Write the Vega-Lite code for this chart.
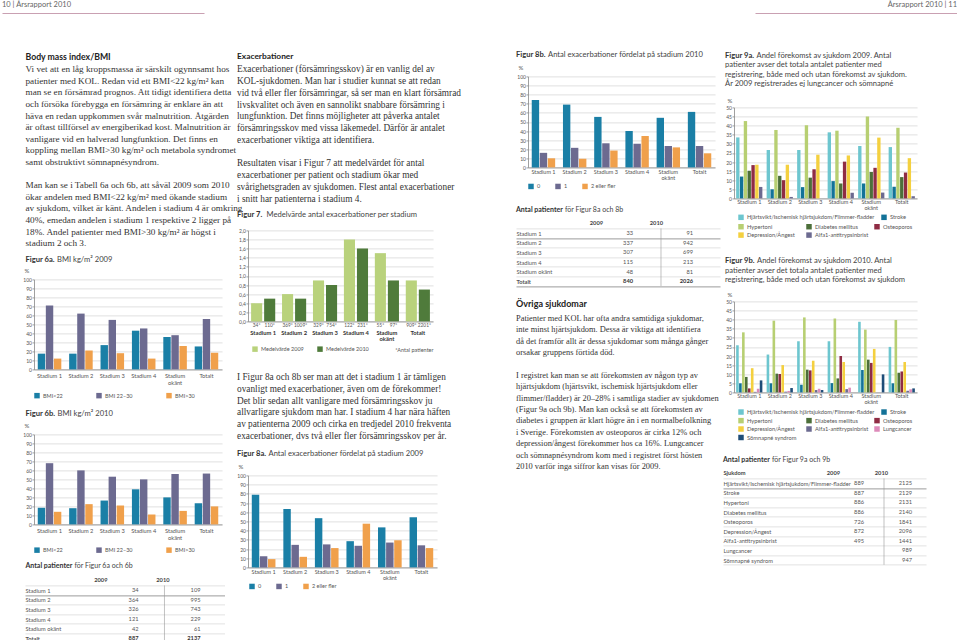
{
  "$schema": "https://vega.github.io/schema/vega-lite/v6.json",
  "padding": {"left": 2, "top": 1, "right": 0, "bottom": 0},
  "background": "white",
  "config": {
    "view": {"stroke": null},
    "font": "Lato",
    "axis": {"labelFont": "Lato", "labelFontSize": 5, "labelColor": "#555", "titleFont": "Lato", "titleFontSize": 6, "titleFontWeight": "normal", "titleColor": "#555", "domainColor": "#888", "domainWidth": 0.8, "tickColor": "#888", "tickSize": 2, "tickWidth": 0.8, "gridColor": "#c9c9c9", "gridWidth": 0.6, "labelPadding": 0.5},
    "legend": {"orient": "none", "direction": "horizontal", "symbolType": "square", "symbolSize": 30, "symbolStrokeWidth": 0, "labelFont": "Lato", "labelFontSize": 5.5, "labelColor": "#555", "labelOffset": 3, "padding": 0, "rowPadding": 2.5}
  },
  "columns": 1,
  "spacing": 37.4,
  "resolve": {"scale": {"color": "independent", "xOffset": "independent"}, "legend": {"color": "independent"}},
  "concat": [
    {
      "spacing": 551,
      "resolve": {"scale": {"color": "independent", "xOffset": "independent"}, "legend": {"color": "independent"}},
      "concat": [
        {
          "width": 202, "height": 12,
          "data": {"values": [{"sida": "10", "rubrik": "10 | Årsrapport 2010"}]},
          "mark": {"type": "text", "align": "left", "baseline": "middle", "dy": -2, "fontSize": 7.5, "color": "#666"},
          "encoding": {
            "x": {"field": "sida", "type": "nominal", "scale": {"type": "point", "padding": 0, "align": 0}, "axis": {"labels": false, "ticks": false, "title": null, "domainColor": "#c9a0b2", "domainWidth": 1.2}},
            "text": {"field": "rubrik"}
          }
        },
        {
          "width": 202, "height": 12,
          "data": {"values": [{"sida": "11", "rubrik": "Årsrapport 2010 | 11"}]},
          "mark": {"type": "text", "align": "right", "baseline": "middle", "dy": -2, "fontSize": 7.5, "color": "#666"},
          "encoding": {
            "x": {"field": "sida", "type": "nominal", "scale": {"type": "point", "padding": 0, "align": 1}, "axis": {"labels": false, "ticks": false, "title": null, "domainColor": "#c9a0b2", "domainWidth": 1.2}},
            "text": {"field": "rubrik"}
          }
        }
      ]
    },
    {
      "spacing": 0,
      "resolve": {"scale": {"color": "independent", "xOffset": "independent"}, "legend": {"color": "independent"}},
      "concat": [
        {
          "width": 20, "height": 10,
          "data": {"values": [{"t": ""}]},
          "mark": {"type": "text"},
          "encoding": {"text": {"field": "t"}}
        },
        {
          "spacing": 35,
          "resolve": {"scale": {"color": "independent", "xOffset": "independent"}, "legend": {"color": "independent"}},
          "concat": [
            {
              "spacing": -7,
              "resolve": {"scale": {"color": "independent", "xOffset": "independent"}, "legend": {"color": "independent"}},
              "concat": [
                {
                  "columns": 1,
                  "spacing": 0,
                  "resolve": {"scale": {"color": "independent", "xOffset": "independent"}, "legend": {"color": "independent"}},
                  "concat": [
                    {
                      "width": 188, "height": 12,
                      "data": {"values": [{"text": "Body mass index/BMI"}]},
                      "mark": {"type": "text", "align": "left", "baseline": "middle", "dx": -8.5, "font": "Lato", "fontSize": 8.7, "fontWeight": "bold", "color": "#222"},
                      "encoding": {"x": {"datum": 0, "type": "quantitative", "scale": {"domain": [0, 1]}, "axis": null}, "text": {"field": "text"}}
                    },
                    {
                      "width": 188, "height": 185.6,
                      "data": {"values": [
                        {"rad": 0, "text": "Vi vet att en låg kroppsmassa är särskilt ogynnsamt hos"},
                        {"rad": 1, "text": "patienter med KOL. Redan vid ett BMI<22 kg/m² kan"},
                        {"rad": 2, "text": "man se en försämrad prognos. Att tidigt identifiera detta"},
                        {"rad": 3, "text": "och försöka förebygga en försämring är enklare än att"},
                        {"rad": 4, "text": "häva en redan uppkommen svår malnutrition. Åtgärden"},
                        {"rad": 5, "text": "är oftast tillförsel av energiberikad kost. Malnutrition är"},
                        {"rad": 6, "text": "vanligare vid en halverad lungfunktion. Det finns en"},
                        {"rad": 7, "text": "koppling mellan BMI>30 kg/m² och metabola syndromet"},
                        {"rad": 8, "text": "samt obstruktivt sömnapnésyndrom."},
                        {"rad": 10, "text": "Man kan se i Tabell 6a och 6b, att såväl 2009 som 2010"},
                        {"rad": 11, "text": "ökar andelen med BMI<22 kg/m² med ökande stadium"},
                        {"rad": 12, "text": "av sjukdom, vilket är känt. Andelen i stadium 4 är omkring"},
                        {"rad": 13, "text": "40%, emedan andelen i stadium 1 respektive 2 ligger på"},
                        {"rad": 14, "text": "18%. Andel patienter med BMI>30 kg/m² är högst i"},
                        {"rad": 15, "text": "stadium 2 och 3."}
                      ]},
                      "mark": {"type": "text", "align": "left", "baseline": "middle", "dx": -8.5, "font": "Liberation Serif", "fontSize": 9.2, "color": "#333"},
                      "encoding": {
                        "x": {"datum": 0, "type": "quantitative", "scale": {"domain": [0, 1]}, "axis": null},
                        "y": {"field": "rad", "type": "quantitative", "scale": {"domain": [-0.5, 15.5], "reverse": true, "nice": false, "zero": false}, "axis": null},
                        "text": {"field": "text"}
                      }
                    },
                    {
                      "width": 188, "height": 18,
                      "data": {"values": [{"del": "nr", "text": "Figur 6a."}, {"del": "rubrik", "text": "BMI kg/m² 2009"}]},
                      "encoding": {"x": {"datum": 0, "type": "quantitative", "scale": {"domain": [0, 1]}, "axis": null}, "text": {"field": "text"}},
                      "layer": [
                        {"transform": [{"filter": "datum.del == 'nr'"}], "mark": {"type": "text", "align": "left", "baseline": "middle", "dx": -8.5, "dy": 1.4, "fontSize": 7.6, "fontWeight": "bold", "color": "#333"}},
                        {"transform": [{"filter": "datum.del == 'rubrik'"}], "mark": {"type": "text", "align": "left", "baseline": "middle", "dx": 23, "dy": 1.4, "fontSize": 7.6, "color": "#444"}}
                      ]
                    },
                    {
                      "width": 188, "height": 90,
                      "data": {"values": [
                        {"stadium": "Stadium 1", "bmi": "BMI<22", "andel": 17.5}, {"stadium": "Stadium 1", "bmi": "BMI 22–30", "andel": 71}, {"stadium": "Stadium 1", "bmi": "BMI>30", "andel": 12},
                        {"stadium": "Stadium 2", "bmi": "BMI<22", "andel": 17.5}, {"stadium": "Stadium 2", "bmi": "BMI 22–30", "andel": 62}, {"stadium": "Stadium 2", "bmi": "BMI>30", "andel": 21},
                        {"stadium": "Stadium 3", "bmi": "BMI<22", "andel": 27}, {"stadium": "Stadium 3", "bmi": "BMI 22–30", "andel": 55}, {"stadium": "Stadium 3", "bmi": "BMI>30", "andel": 18},
                        {"stadium": "Stadium 4", "bmi": "BMI<22", "andel": 43}, {"stadium": "Stadium 4", "bmi": "BMI 22–30", "andel": 45.5}, {"stadium": "Stadium 4", "bmi": "BMI>30", "andel": 12},
                        {"stadium": "Stadium okänt", "bmi": "BMI<22", "andel": 36}, {"stadium": "Stadium okänt", "bmi": "BMI 22–30", "andel": 38}, {"stadium": "Stadium okänt", "bmi": "BMI>30", "andel": 26},
                        {"stadium": "Totalt", "bmi": "BMI<22", "andel": 25.5}, {"stadium": "Totalt", "bmi": "BMI 22–30", "andel": 56}, {"stadium": "Totalt", "bmi": "BMI>30", "andel": 18.5}
                      ]},
                      "mark": {"type": "bar"},
                      "encoding": {
                        "x": {"field": "stadium", "type": "nominal", "sort": null, "title": null, "scale": {"paddingInner": 0.25, "paddingOuter": 0.12}, "axis": {"labelAngle": 0, "ticks": false, "labelPadding": 3, "labelFontSize": 5.7, "labelLineHeight": 7, "labelExpr": "datum.value == 'Stadium okänt' ? ['Stadium', 'okänt'] : datum.value"}},
                        "xOffset": {"field": "bmi", "type": "nominal", "sort": null, "scale": {"paddingInner": 0.08}},
                        "y": {"field": "andel", "type": "quantitative", "scale": {"domain": [0, 100], "nice": false}, "axis": {"values": [0, 10, 20, 30, 40, 50, 60, 70, 80, 90, 100], "title": "%", "titleAngle": 0, "titleAlign": "left", "titleBaseline": "middle", "titleX": -10, "titleY": -9, "grid": true}},
                        "color": {"field": "bmi", "type": "nominal", "sort": null, "scale": {"domain": ["BMI<22", "BMI 22–30", "BMI>30"], "range": ["#1a7fa6", "#6c6a90", "#f0a04b"]}, "legend": {"title": null, "legendX": 0, "legendY": 113, "columnPadding": 33}}
                      }
                    },
                    {
                      "width": 188, "height": 22.5,
                      "data": {"values": [{"del": "nr", "text": "Figur 6b."}, {"del": "rubrik", "text": "BMI kg/m² 2010"}]},
                      "encoding": {"x": {"datum": 0, "type": "quantitative", "scale": {"domain": [0, 1]}, "axis": null}, "text": {"field": "text"}},
                      "layer": [
                        {"transform": [{"filter": "datum.del == 'nr'"}], "mark": {"type": "text", "align": "left", "baseline": "middle", "dx": -8.5, "dy": 3.25, "fontSize": 7.6, "fontWeight": "bold", "color": "#333"}},
                        {"transform": [{"filter": "datum.del == 'rubrik'"}], "mark": {"type": "text", "align": "left", "baseline": "middle", "dx": 23.5, "dy": 3.25, "fontSize": 7.6, "color": "#444"}}
                      ]
                    },
                    {
                      "width": 188, "height": 90,
                      "data": {"values": [
                        {"stadium": "Stadium 1", "bmi": "BMI<22", "andel": 18.5}, {"stadium": "Stadium 1", "bmi": "BMI 22–30", "andel": 68}, {"stadium": "Stadium 1", "bmi": "BMI>30", "andel": 14},
                        {"stadium": "Stadium 2", "bmi": "BMI<22", "andel": 18}, {"stadium": "Stadium 2", "bmi": "BMI 22–30", "andel": 60}, {"stadium": "Stadium 2", "bmi": "BMI>30", "andel": 22.5},
                        {"stadium": "Stadium 3", "bmi": "BMI<22", "andel": 26.5}, {"stadium": "Stadium 3", "bmi": "BMI 22–30", "andel": 53}, {"stadium": "Stadium 3", "bmi": "BMI>30", "andel": 21},
                        {"stadium": "Stadium 4", "bmi": "BMI<22", "andel": 39}, {"stadium": "Stadium 4", "bmi": "BMI 22–30", "andel": 50}, {"stadium": "Stadium 4", "bmi": "BMI>30", "andel": 11},
                        {"stadium": "Stadium okänt", "bmi": "BMI<22", "andel": 30}, {"stadium": "Stadium okänt", "bmi": "BMI 22–30", "andel": 56}, {"stadium": "Stadium okänt", "bmi": "BMI>30", "andel": 15},
                        {"stadium": "Totalt", "bmi": "BMI<22", "andel": 23.5}, {"stadium": "Totalt", "bmi": "BMI 22–30", "andel": 56.5}, {"stadium": "Totalt", "bmi": "BMI>30", "andel": 20}
                      ]},
                      "mark": {"type": "bar"},
                      "encoding": {
                        "x": {"field": "stadium", "type": "nominal", "sort": null, "title": null, "scale": {"paddingInner": 0.25, "paddingOuter": 0.12}, "axis": {"labelAngle": 0, "ticks": false, "labelPadding": 3, "labelFontSize": 5.7, "labelLineHeight": 7, "labelExpr": "datum.value == 'Stadium okänt' ? ['Stadium', 'okänt'] : datum.value"}},
                        "xOffset": {"field": "bmi", "type": "nominal", "sort": null, "scale": {"paddingInner": 0.08}},
                        "y": {"field": "andel", "type": "quantitative", "scale": {"domain": [0, 100], "nice": false}, "axis": {"values": [0, 10, 20, 30, 40, 50, 60, 70, 80, 90, 100], "title": "%", "titleAngle": 0, "titleAlign": "left", "titleBaseline": "middle", "titleX": -10, "titleY": -9, "grid": true}},
                        "color": {"field": "bmi", "type": "nominal", "sort": null, "scale": {"domain": ["BMI<22", "BMI 22–30", "BMI>30"], "range": ["#1a7fa6", "#6c6a90", "#f0a04b"]}, "legend": {"title": null, "legendX": 0, "legendY": 112.5, "columnPadding": 33}}
                      }
                    },
                    {
                      "width": 188, "height": 21.5,
                      "data": {"values": [{"del": "nr", "text": "Antal patienter"}, {"del": "rubrik", "text": "för Figur 6a och 6b"}]},
                      "encoding": {"x": {"datum": 0, "type": "quantitative", "scale": {"domain": [0, 1]}, "axis": null}, "text": {"field": "text"}},
                      "layer": [
                        {"transform": [{"filter": "datum.del == 'nr'"}], "mark": {"type": "text", "align": "left", "baseline": "middle", "dx": -8.5, "dy": 0.75, "fontSize": 7, "fontWeight": "bold", "color": "#333"}},
                        {"transform": [{"filter": "datum.del == 'rubrik'"}], "mark": {"type": "text", "align": "left", "baseline": "middle", "dx": 40.5, "dy": 0.75, "fontSize": 7, "color": "#444"}}
                      ]
                    },
                    {
                      "width": 190.5, "height": 57.6,
                      "data": {"values": [
                        {"rad": "Stadium 1", "år": "2009", "antal": 34}, {"rad": "Stadium 1", "år": "2010", "antal": 109},
                        {"rad": "Stadium 2", "år": "2009", "antal": 364}, {"rad": "Stadium 2", "år": "2010", "antal": 995},
                        {"rad": "Stadium 3", "år": "2009", "antal": 326}, {"rad": "Stadium 3", "år": "2010", "antal": 743},
                        {"rad": "Stadium 4", "år": "2009", "antal": 121}, {"rad": "Stadium 4", "år": "2010", "antal": 229},
                        {"rad": "Stadium okänt", "år": "2009", "antal": 42}, {"rad": "Stadium okänt", "år": "2010", "antal": 61},
                        {"rad": "Totalt", "år": "2009", "antal": 887}, {"rad": "Totalt", "år": "2010", "antal": 2137}
                      ]},
                      "layer": [
                        {"transform": [{"filter": "datum.rad != 'Totalt'"}], "mark": {"type": "text", "align": "right", "baseline": "middle", "dx": -2, "fontSize": 5.7, "color": "#555"},
                         "encoding": {
                           "y": {"field": "rad", "type": "nominal", "sort": null, "scale": {"domain": ["Stadium 1", "Stadium 2", "Stadium 3", "Stadium 4", "Stadium okänt", "Totalt"], "paddingInner": 0, "paddingOuter": 0}, "axis": {"title": null, "domain": false, "tickBand": "extent", "tickSize": 9, "tickWidth": 0.6, "tickColor": {"condition": {"test": "datum.value == 'Stadium 1' || datum.value == 'Totalt'", "value": "#555"}, "value": "#cfcfcf"}, "grid": true, "gridWidth": 0.6, "gridColor": {"condition": {"test": "datum.value == 'Stadium 1' || datum.value == 'Totalt'", "value": "#555"}, "value": "#cfcfcf"}, "labelAlign": "left", "labelPadding": 0, "labelFontSize": 5.7, "labelColor": "#555", "labelFontWeight": {"condition": {"test": "datum.value == 'Totalt'", "value": "bold"}, "value": "normal"}}},
                           "x": {"field": "år", "type": "nominal", "sort": null, "bandPosition": 1, "scale": {"domain": ["2009", "2010"], "paddingInner": 0, "paddingOuter": 0.536, "align": 0.669}, "axis": {"orient": "top", "title": null, "bandPosition": 1, "labelAngle": 0, "labelAlign": "right", "labelOffset": -2, "labelFontWeight": "bold", "labelFontSize": 5.7, "labelColor": "#444", "ticks": false, "domain": false, "labelPadding": 2.5}},
                           "text": {"field": "antal"}
                         }},
                        {"transform": [{"filter": "datum.rad == 'Totalt'"}], "mark": {"type": "text", "align": "right", "baseline": "middle", "dx": -2, "fontSize": 5.7, "fontWeight": "bold", "color": "#333"},
                         "encoding": {"y": {"field": "rad", "type": "nominal"}, "x": {"field": "år", "type": "nominal", "bandPosition": 1}, "text": {"field": "antal"}}},
                        {"data": {"values": [{"d": 1}]}, "mark": {"type": "rule", "color": "#999", "strokeWidth": 0.6}, "encoding": {"x": {"datum": "2010", "type": "nominal", "bandPosition": 0.387}}}
                      ]
                    }
                  ]
                },
                {
                  "columns": 1,
                  "spacing": 0,
                  "resolve": {"scale": {"color": "independent", "xOffset": "independent"}, "legend": {"color": "independent"}},
                  "concat": [
                    {
                      "width": 232, "height": 12,
                      "data": {"values": [{"text": "Exacerbationer"}]},
                      "mark": {"type": "text", "align": "left", "baseline": "middle", "dx": -11, "dy": -1, "font": "Lato", "fontSize": 8.4, "fontWeight": "bold", "color": "#222"},
                      "encoding": {"x": {"datum": 0, "type": "quantitative", "scale": {"domain": [0, 1]}, "axis": null}, "text": {"field": "text"}}
                    },
                    {
                      "width": 232, "height": 141,
                      "data": {"values": [
                        {"rad": 0, "text": "Exacerbationer (försämringsskov) är en vanlig del av"},
                        {"rad": 1, "text": "KOL-sjukdomen. Man har i studier kunnat se att redan"},
                        {"rad": 2, "text": "vid två eller fler försämringar, så ser man en klart försämrad"},
                        {"rad": 3, "text": "livskvalitet och även en sannolikt snabbare försämring i"},
                        {"rad": 4, "text": "lungfunktion. Det finns möjligheter att påverka antalet"},
                        {"rad": 5, "text": "försämringsskov med vissa läkemedel. Därför är antalet"},
                        {"rad": 6, "text": "exacerbationer viktiga att identifiera."},
                        {"rad": 8, "text": "Resultaten visar i Figur 7 att medelvärdet för antal"},
                        {"rad": 9, "text": "exacerbationer per patient och stadium ökar med"},
                        {"rad": 10, "text": "svårighetsgraden av sjukdomen. Flest antal exacerbationer"},
                        {"rad": 11, "text": "i snitt har patienterna i stadium 4."}
                      ]},
                      "mark": {"type": "text", "align": "left", "baseline": "middle", "dx": -11, "font": "Liberation Serif", "fontSize": 9.3, "color": "#333"},
                      "encoding": {
                        "x": {"datum": 0, "type": "quantitative", "scale": {"domain": [0, 1]}, "axis": null},
                        "y": {"field": "rad", "type": "quantitative", "scale": {"domain": [-0.5, 11.5], "reverse": true, "nice": false, "zero": false}, "axis": null},
                        "text": {"field": "text"}
                      }
                    },
                    {
                      "width": 232, "height": 23.5,
                      "data": {"values": [{"del": "nr", "text": "Figur 7."}, {"del": "rubrik", "text": "Medelvärde antal exacerbationer per stadium"}]},
                      "encoding": {"x": {"datum": 0, "type": "quantitative", "scale": {"domain": [0, 1]}, "axis": null}, "text": {"field": "text"}},
                      "layer": [
                        {"transform": [{"filter": "datum.del == 'nr'"}], "mark": {"type": "text", "align": "left", "baseline": "middle", "dx": -11, "dy": -0.75, "fontSize": 7.6, "fontWeight": "bold", "color": "#333"}},
                        {"transform": [{"filter": "datum.del == 'rubrik'"}], "mark": {"type": "text", "align": "left", "baseline": "middle", "dx": 18.5, "dy": -0.75, "fontSize": 7.6, "color": "#444"}}
                      ]
                    },
                    {
                      "width": 185, "height": 91,
                      "data": {"values": [
                        {"stadium": "Stadium 1", "serie": "Medelvärde 2009", "medel": 0.4, "n": "34*"}, {"stadium": "Stadium 1", "serie": "Medelvärde 2010", "medel": 0.5, "n": "110*"},
                        {"stadium": "Stadium 2", "serie": "Medelvärde 2009", "medel": 0.6, "n": "369*"}, {"stadium": "Stadium 2", "serie": "Medelvärde 2010", "medel": 0.5, "n": "1009*"},
                        {"stadium": "Stadium 3", "serie": "Medelvärde 2009", "medel": 0.9, "n": "329*"}, {"stadium": "Stadium 3", "serie": "Medelvärde 2010", "medel": 0.8, "n": "754*"},
                        {"stadium": "Stadium 4", "serie": "Medelvärde 2009", "medel": 1.8, "n": "122*"}, {"stadium": "Stadium 4", "serie": "Medelvärde 2010", "medel": 1.6, "n": "231*"},
                        {"stadium": "Stadium okänt", "serie": "Medelvärde 2009", "medel": 1.5, "n": "55*"}, {"stadium": "Stadium okänt", "serie": "Medelvärde 2010", "medel": 0.9, "n": "97*"},
                        {"stadium": "Totalt", "serie": "Medelvärde 2009", "medel": 0.9, "n": "909*"}, {"stadium": "Totalt", "serie": "Medelvärde 2010", "medel": 0.7, "n": "2201*"}
                      ]},
                      "encoding": {
                        "x": {"field": "stadium", "type": "nominal", "sort": null, "scale": {"paddingInner": 0.22, "paddingOuter": 0.1}, "axis": {"labelAngle": 0, "ticks": false, "labelPadding": 8, "labelFontSize": 5.8, "labelFontWeight": "bold", "labelColor": "#333", "labelLineHeight": 6.5, "labelExpr": "datum.value == 'Stadium okänt' ? ['Stadium', 'okänt'] : datum.value", "title": "*Antal patienter", "titleAnchor": "end", "titleAlign": "right", "titleBaseline": "middle", "titleX": 185, "titleY": 28, "titleFontSize": 5.5}},
                        "xOffset": {"field": "serie", "type": "nominal", "sort": null, "scale": {"paddingInner": 0.15}},
                        "y": {"field": "medel", "type": "quantitative", "scale": {"domain": [0, 2], "nice": false}, "axis": {"values": [0, 0.2, 0.4, 0.6, 0.8, 1, 1.2, 1.4, 1.6, 1.8, 2], "labelExpr": "replace(format(datum.value, '.1f'), '.', ',')", "title": null, "grid": true}}
                      },
                      "layer": [
                        {"mark": {"type": "bar"}, "encoding": {"color": {"field": "serie", "type": "nominal", "sort": null, "scale": {"domain": ["Medelvärde 2009", "Medelvärde 2010"], "range": ["#b9d27c", "#4f7b3b"]}, "legend": {"title": null, "legendX": 4, "legendY": 115.5, "columnPadding": 13}}}},
                        {"mark": {"type": "text", "baseline": "top", "dy": 1.5, "fontSize": 4.8, "color": "#555"}, "encoding": {"y": {"datum": 0, "type": "quantitative"}, "text": {"field": "n"}}}
                      ]
                    },
                    {
                      "width": 232, "height": 88.5,
                      "data": {"values": [
                        {"rad": 1, "text": "I Figur 8a och 8b ser man att det i stadium 1 är tämligen"},
                        {"rad": 2, "text": "ovanligt med exacerbationer, även om de förekommer!"},
                        {"rad": 3, "text": "Det blir sedan allt vanligare med försämringsskov ju"},
                        {"rad": 4, "text": "allvarligare sjukdom man har. I stadium 4 har nära häften"},
                        {"rad": 5, "text": "av patienterna 2009 och cirka en tredjedel 2010 frekventa"},
                        {"rad": 6, "text": "exacerbationer, dvs två eller fler försämringsskov per år."}
                      ]},
                      "mark": {"type": "text", "align": "left", "baseline": "middle", "dx": -11, "font": "Liberation Serif", "fontSize": 9.3, "color": "#333"},
                      "encoding": {
                        "x": {"datum": 0, "type": "quantitative", "scale": {"domain": [0, 1]}, "axis": null},
                        "y": {"field": "rad", "type": "quantitative", "scale": {"domain": [-1, 6.5], "reverse": true, "nice": false, "zero": false}, "axis": null},
                        "text": {"field": "text"}
                      }
                    },
                    {
                      "width": 232, "height": 20.7,
                      "data": {"values": [{"del": "nr", "text": "Figur 8a."}, {"del": "rubrik", "text": "Antal exacerbationer fördelat på stadium 2009"}]},
                      "encoding": {"x": {"datum": 0, "type": "quantitative", "scale": {"domain": [0, 1]}, "axis": null}, "text": {"field": "text"}},
                      "layer": [
                        {"transform": [{"filter": "datum.del == 'nr'"}], "mark": {"type": "text", "align": "left", "baseline": "middle", "dx": -11, "dy": 1.6, "fontSize": 7.6, "fontWeight": "bold", "color": "#333"}},
                        {"transform": [{"filter": "datum.del == 'rubrik'"}], "mark": {"type": "text", "align": "left", "baseline": "middle", "dx": 20.5, "dy": 1.6, "fontSize": 7.6, "color": "#444"}}
                      ]
                    },
                    {
                      "width": 189, "height": 92,
                      "data": {"values": [
                        {"stadium": "Stadium 1", "antal": "0", "andel": 79}, {"stadium": "Stadium 1", "antal": "1", "andel": 12}, {"stadium": "Stadium 1", "antal": "2 eller fler", "andel": 9},
                        {"stadium": "Stadium 2", "antal": "0", "andel": 63.5}, {"stadium": "Stadium 2", "antal": "1", "andel": 24.5}, {"stadium": "Stadium 2", "antal": "2 eller fler", "andel": 11.5},
                        {"stadium": "Stadium 3", "antal": "0", "andel": 53.5}, {"stadium": "Stadium 3", "antal": "1", "andel": 25}, {"stadium": "Stadium 3", "antal": "2 eller fler", "andel": 21},
                        {"stadium": "Stadium 4", "antal": "0", "andel": 28.5}, {"stadium": "Stadium 4", "antal": "1", "andel": 23.5}, {"stadium": "Stadium 4", "antal": "2 eller fler", "andel": 47.5},
                        {"stadium": "Stadium okänt", "antal": "0", "andel": 43.5}, {"stadium": "Stadium okänt", "antal": "1", "andel": 27}, {"stadium": "Stadium okänt", "antal": "2 eller fler", "andel": 29.5},
                        {"stadium": "Totalt", "antal": "0", "andel": 54.5}, {"stadium": "Totalt", "antal": "1", "andel": 24}, {"stadium": "Totalt", "antal": "2 eller fler", "andel": 21}
                      ]},
                      "mark": {"type": "bar"},
                      "encoding": {
                        "x": {"field": "stadium", "type": "nominal", "sort": null, "title": null, "scale": {"paddingInner": 0.25, "paddingOuter": 0.12}, "axis": {"labelAngle": 0, "ticks": false, "labelPadding": 2, "labelFontSize": 5.5, "labelLineHeight": 6.5, "labelExpr": "datum.value == 'Stadium okänt' ? ['Stadium', 'okänt'] : datum.value"}},
                        "xOffset": {"field": "antal", "type": "nominal", "sort": null, "scale": {"paddingInner": 0.08}},
                        "y": {"field": "andel", "type": "quantitative", "scale": {"domain": [0, 100], "nice": false}, "axis": {"values": [0, 10, 20, 30, 40, 50, 60, 70, 80, 90, 100], "title": "%", "titleAngle": 0, "titleAlign": "left", "titleBaseline": "middle", "titleX": -10, "titleY": -8.5, "grid": true}},
                        "color": {"field": "antal", "type": "nominal", "sort": null, "scale": {"domain": ["0", "1", "2 eller fler"], "range": ["#1a7fa6", "#6c6a90", "#f0a04b"]}, "legend": {"title": null, "legendX": 1, "legendY": 107.8, "columnPadding": 14}}
                      }
                    }
                  ]
                }
              ]
            },
            {
              "spacing": 2,
              "resolve": {"scale": {"color": "independent", "xOffset": "independent"}, "legend": {"color": "independent"}},
              "concat": [
                {
                  "columns": 1,
                  "spacing": 0,
                  "resolve": {"scale": {"color": "independent", "xOffset": "independent"}, "legend": {"color": "independent"}},
                  "concat": [
                    {
                      "width": 192, "height": 12.7,
                      "data": {"values": [{"del": "nr", "text": "Figur 8b."}, {"del": "rubrik", "text": "Antal exacerbationer fördelat på stadium 2010"}]},
                      "encoding": {"x": {"datum": 0, "type": "quantitative", "scale": {"domain": [0, 1]}, "axis": null}, "text": {"field": "text"}},
                      "layer": [
                        {"transform": [{"filter": "datum.del == 'nr'"}], "mark": {"type": "text", "align": "left", "baseline": "middle", "dx": -12, "dy": -2.35, "fontSize": 7.6, "fontWeight": "bold", "color": "#333"}},
                        {"transform": [{"filter": "datum.del == 'rubrik'"}], "mark": {"type": "text", "align": "left", "baseline": "middle", "dx": 20, "dy": -2.35, "fontSize": 7.6, "color": "#444"}}
                      ]
                    },
                    {
                      "width": 187, "height": 91,
                      "data": {"values": [
                        {"stadium": "Stadium 1", "antal": "0", "andel": 74}, {"stadium": "Stadium 1", "antal": "1", "andel": 16}, {"stadium": "Stadium 1", "antal": "2 eller fler", "andel": 10},
                        {"stadium": "Stadium 2", "antal": "0", "andel": 69}, {"stadium": "Stadium 2", "antal": "1", "andel": 21.5}, {"stadium": "Stadium 2", "antal": "2 eller fler", "andel": 9.5},
                        {"stadium": "Stadium 3", "antal": "0", "andel": 55.5}, {"stadium": "Stadium 3", "antal": "1", "andel": 26.5}, {"stadium": "Stadium 3", "antal": "2 eller fler", "andel": 18.5},
                        {"stadium": "Stadium 4", "antal": "0", "andel": 40}, {"stadium": "Stadium 4", "antal": "1", "andel": 26}, {"stadium": "Stadium 4", "antal": "2 eller fler", "andel": 34.5},
                        {"stadium": "Stadium okänt", "antal": "0", "andel": 54.5}, {"stadium": "Stadium okänt", "antal": "1", "andel": 23.5}, {"stadium": "Stadium okänt", "antal": "2 eller fler", "andel": 22},
                        {"stadium": "Totalt", "antal": "0", "andel": 61}, {"stadium": "Totalt", "antal": "1", "andel": 23.5}, {"stadium": "Totalt", "antal": "2 eller fler", "andel": 15.5}
                      ]},
                      "mark": {"type": "bar"},
                      "encoding": {
                        "x": {"field": "stadium", "type": "nominal", "sort": null, "title": null, "scale": {"paddingInner": 0.25, "paddingOuter": 0.12}, "axis": {"labelAngle": 0, "ticks": false, "labelPadding": 2, "labelFontSize": 5.5, "labelLineHeight": 6.5, "labelExpr": "datum.value == 'Stadium okänt' ? ['Stadium', 'okänt'] : datum.value"}},
                        "xOffset": {"field": "antal", "type": "nominal", "sort": null, "scale": {"paddingInner": 0.08}},
                        "y": {"field": "andel", "type": "quantitative", "scale": {"domain": [0, 100], "nice": false}, "axis": {"values": [0, 10, 20, 30, 40, 50, 60, 70, 80, 90, 100], "title": "%", "titleAngle": 0, "titleAlign": "left", "titleBaseline": "middle", "titleX": -10, "titleY": -8.5, "grid": true}},
                        "color": {"field": "antal", "type": "nominal", "sort": null, "scale": {"domain": ["0", "1", "2 eller fler"], "range": ["#1a7fa6", "#6c6a90", "#f0a04b"]}, "legend": {"title": null, "legendX": 0, "legendY": 106.8, "columnPadding": 14}}
                      }
                    },
                    {
                      "width": 192, "height": 28.5,
                      "data": {"values": [{"del": "nr", "text": "Antal patienter"}, {"del": "rubrik", "text": "för Figur 8a och 8b"}]},
                      "encoding": {"x": {"datum": 0, "type": "quantitative", "scale": {"domain": [0, 1]}, "axis": null}, "text": {"field": "text"}},
                      "layer": [
                        {"transform": [{"filter": "datum.del == 'nr'"}], "mark": {"type": "text", "align": "left", "baseline": "middle", "dx": -12, "dy": 5.25, "fontSize": 7, "fontWeight": "bold", "color": "#333"}},
                        {"transform": [{"filter": "datum.del == 'rubrik'"}], "mark": {"type": "text", "align": "left", "baseline": "middle", "dx": 37, "dy": 5.25, "fontSize": 7, "color": "#444"}}
                      ]
                    },
                    {
                      "width": 192, "height": 57.6,
                      "data": {"values": [
                        {"rad": "Stadium 1", "år": "2009", "antal": 33}, {"rad": "Stadium 1", "år": "2010", "antal": 91},
                        {"rad": "Stadium 2", "år": "2009", "antal": 337}, {"rad": "Stadium 2", "år": "2010", "antal": 942},
                        {"rad": "Stadium 3", "år": "2009", "antal": 307}, {"rad": "Stadium 3", "år": "2010", "antal": 699},
                        {"rad": "Stadium 4", "år": "2009", "antal": 115}, {"rad": "Stadium 4", "år": "2010", "antal": 213},
                        {"rad": "Stadium okänt", "år": "2009", "antal": 48}, {"rad": "Stadium okänt", "år": "2010", "antal": 81},
                        {"rad": "Totalt", "år": "2009", "antal": 840}, {"rad": "Totalt", "år": "2010", "antal": 2026}
                      ]},
                      "layer": [
                        {"transform": [{"filter": "datum.rad != 'Totalt'"}], "mark": {"type": "text", "align": "right", "baseline": "middle", "dx": -2, "fontSize": 5.7, "color": "#555"},
                         "encoding": {
                           "y": {"field": "rad", "type": "nominal", "sort": null, "scale": {"domain": ["Stadium 1", "Stadium 2", "Stadium 3", "Stadium 4", "Stadium okänt", "Totalt"], "paddingInner": 0, "paddingOuter": 0}, "axis": {"title": null, "domain": false, "tickBand": "extent", "tickSize": 12, "tickWidth": 0.6, "tickColor": {"condition": {"test": "datum.value == 'Stadium 1' || datum.value == 'Totalt'", "value": "#555"}, "value": "#cfcfcf"}, "grid": true, "gridWidth": 0.6, "gridColor": {"condition": {"test": "datum.value == 'Stadium 1' || datum.value == 'Totalt'", "value": "#555"}, "value": "#cfcfcf"}, "labelAlign": "left", "labelPadding": 0, "labelFontSize": 5.7, "labelColor": "#555", "labelFontWeight": {"condition": {"test": "datum.value == 'Totalt'", "value": "bold"}, "value": "normal"}}},
                           "x": {"field": "år", "type": "nominal", "sort": null, "bandPosition": 1, "scale": {"domain": ["2009", "2010"], "paddingInner": 0, "paddingOuter": 0.6, "align": 0.653}, "axis": {"orient": "top", "title": null, "bandPosition": 1, "labelAngle": 0, "labelAlign": "right", "labelOffset": -2, "labelFontWeight": "bold", "labelFontSize": 5.7, "labelColor": "#444", "ticks": false, "domain": false, "labelPadding": 2.5}},
                           "text": {"field": "antal"}
                         }},
                        {"transform": [{"filter": "datum.rad == 'Totalt'"}], "mark": {"type": "text", "align": "right", "baseline": "middle", "dx": -2, "fontSize": 5.7, "fontWeight": "bold", "color": "#333"},
                         "encoding": {"y": {"field": "rad", "type": "nominal"}, "x": {"field": "år", "type": "nominal", "bandPosition": 1}, "text": {"field": "antal"}}},
                        {"data": {"values": [{"d": 1}]}, "mark": {"type": "rule", "color": "#999", "strokeWidth": 0.6}, "encoding": {"x": {"datum": "2010", "type": "nominal", "bandPosition": 0.433}}}
                      ]
                    },
                    {
                      "width": 192, "height": 22,
                      "data": {"values": [{"text": "Övriga sjukdomar"}]},
                      "mark": {"type": "text", "align": "left", "baseline": "middle", "dx": -12, "dy": 5.9, "font": "Lato", "fontSize": 9, "fontWeight": "bold", "color": "#222"},
                      "encoding": {"x": {"datum": 0, "type": "quantitative", "scale": {"domain": [0, 1]}, "axis": null}, "text": {"field": "text"}}
                    },
                    {
                      "width": 192, "height": 162.3,
                      "data": {"values": [
                        {"rad": 0, "text": "Patienter med KOL har ofta andra samtidiga sjukdomar,"},
                        {"rad": 1, "text": "inte minst hjärtsjukdom. Dessa är viktiga att identifiera"},
                        {"rad": 2, "text": "då det framför allt är dessa sjukdomar som många gånger"},
                        {"rad": 3, "text": "orsakar gruppens förtida död."},
                        {"rad": 5, "text": "I registret kan man se att förekomsten av någon typ av"},
                        {"rad": 6, "text": "hjärtsjukdom (hjärtsvikt, ischemisk hjärtsjukdom eller"},
                        {"rad": 7, "text": "flimmer/fladder) är 20–28% i samtliga stadier av sjukdomen"},
                        {"rad": 8, "text": "(Figur 9a och 9b). Man kan också se att förekomsten av"},
                        {"rad": 9, "text": "diabetes i gruppen är klart högre än i en normalbefolkning"},
                        {"rad": 10, "text": "i Sverige. Förekomsten av osteoporos är cirka 12% och"},
                        {"rad": 11, "text": "depression/ångest förekommer hos ca 16%. Lungcancer"},
                        {"rad": 12, "text": "och sömnapnésyndrom kom med i registret först hösten"},
                        {"rad": 13, "text": "2010 varför inga siffror kan visas för 2009."}
                      ]},
                      "mark": {"type": "text", "align": "left", "baseline": "middle", "dx": -12, "font": "Liberation Serif", "fontSize": 8.4, "color": "#333"},
                      "encoding": {
                        "x": {"datum": 0, "type": "quantitative", "scale": {"domain": [0, 1]}, "axis": null},
                        "y": {"field": "rad", "type": "quantitative", "scale": {"domain": [-0.737, 13.5], "reverse": true, "nice": false, "zero": false}, "axis": null},
                        "text": {"field": "text"}
                      }
                    }
                  ]
                },
                {
                  "columns": 1,
                  "spacing": 0,
                  "resolve": {"scale": {"color": "independent", "xOffset": "independent"}, "legend": {"color": "independent"}},
                  "concat": [
                    {
                      "width": 209, "height": 46,
                      "data": {"values": [
                        {"rad": 0, "del": "nr", "text": "Figur 9a."},
                        {"rad": 0, "del": "rubrik", "text": "Andel förekomst av sjukdom 2009. Antal"},
                        {"rad": 1, "del": "rad", "text": "patienter avser det totala antalet patienter med"},
                        {"rad": 2, "del": "rad", "text": "registrering, både med och utan förekomst av sjukdom."},
                        {"rad": 3, "del": "rad", "text": "År 2009 registrerades ej lungcancer och sömnapné"}
                      ]},
                      "encoding": {
                        "x": {"datum": 0, "type": "quantitative", "scale": {"domain": [0, 1]}, "axis": null},
                        "y": {"field": "rad", "type": "quantitative", "scale": {"domain": [-0.5, 4.43], "reverse": true, "nice": false, "zero": false}, "axis": null},
                        "text": {"field": "text"}
                      },
                      "layer": [
                        {"transform": [{"filter": "datum.del == 'nr'"}], "mark": {"type": "text", "align": "left", "baseline": "middle", "dx": -9, "fontSize": 7.6, "fontWeight": "bold", "color": "#333"}},
                        {"transform": [{"filter": "datum.del == 'rubrik'"}], "mark": {"type": "text", "align": "left", "baseline": "middle", "dx": 22.5, "fontSize": 7.6, "color": "#444"}},
                        {"transform": [{"filter": "datum.del == 'rad'"}], "mark": {"type": "text", "align": "left", "baseline": "middle", "dx": -9, "fontSize": 7.6, "color": "#444"}}
                      ]
                    },
                    {
                      "width": 183, "height": 91,
                      "data": {"values": [
                        {"stadium": "Stadium 1", "sjukdom": "Hjärtsvikt/Ischemisk hjärtsjukdom/Flimmer-fladder", "andel": 33.5}, {"stadium": "Stadium 1", "sjukdom": "Stroke", "andel": 12}, {"stadium": "Stadium 1", "sjukdom": "Hypertoni", "andel": 42.5}, {"stadium": "Stadium 1", "sjukdom": "Diabetes mellitus", "andel": 15.2}, {"stadium": "Stadium 1", "sjukdom": "Osteoporos", "andel": 18.3}, {"stadium": "Stadium 1", "sjukdom": "Depression/Ångest", "andel": 18.5}, {"stadium": "Stadium 1", "sjukdom": "Alfa1-antitrypsinbrist", "andel": 6.3},
                        {"stadium": "Stadium 2", "sjukdom": "Hjärtsvikt/Ischemisk hjärtsjukdom/Flimmer-fladder", "andel": 26.6}, {"stadium": "Stadium 2", "sjukdom": "Stroke", "andel": 5}, {"stadium": "Stadium 2", "sjukdom": "Hypertoni", "andel": 37.6}, {"stadium": "Stadium 2", "sjukdom": "Diabetes mellitus", "andel": 12.4}, {"stadium": "Stadium 2", "sjukdom": "Osteoporos", "andel": 10}, {"stadium": "Stadium 2", "sjukdom": "Depression/Ångest", "andel": 18.5}, {"stadium": "Stadium 2", "sjukdom": "Alfa1-antitrypsinbrist", "andel": 0.8},
                        {"stadium": "Stadium 3", "sjukdom": "Hjärtsvikt/Ischemisk hjärtsjukdom/Flimmer-fladder", "andel": 26.6}, {"stadium": "Stadium 3", "sjukdom": "Stroke", "andel": 6.2}, {"stadium": "Stadium 3", "sjukdom": "Hypertoni", "andel": 40.2}, {"stadium": "Stadium 3", "sjukdom": "Diabetes mellitus", "andel": 11.4}, {"stadium": "Stadium 3", "sjukdom": "Osteoporos", "andel": 16}, {"stadium": "Stadium 3", "sjukdom": "Depression/Ångest", "andel": 24}, {"stadium": "Stadium 3", "sjukdom": "Alfa1-antitrypsinbrist", "andel": 0},
                        {"stadium": "Stadium 4", "sjukdom": "Hjärtsvikt/Ischemisk hjärtsjukdom/Flimmer-fladder", "andel": 36.3}, {"stadium": "Stadium 4", "sjukdom": "Stroke", "andel": 9.5}, {"stadium": "Stadium 4", "sjukdom": "Hypertoni", "andel": 37.2}, {"stadium": "Stadium 4", "sjukdom": "Diabetes mellitus", "andel": 8.2}, {"stadium": "Stadium 4", "sjukdom": "Osteoporos", "andel": 20.2}, {"stadium": "Stadium 4", "sjukdom": "Depression/Ångest", "andel": 23.6}, {"stadium": "Stadium 4", "sjukdom": "Alfa1-antitrypsinbrist", "andel": 3.1},
                        {"stadium": "Stadium okänt", "sjukdom": "Hjärtsvikt/Ischemisk hjärtsjukdom/Flimmer-fladder", "andel": 28.8}, {"stadium": "Stadium okänt", "sjukdom": "Stroke", "andel": 8.2}, {"stadium": "Stadium okänt", "sjukdom": "Hypertoni", "andel": 45}, {"stadium": "Stadium okänt", "sjukdom": "Diabetes mellitus", "andel": 14.5}, {"stadium": "Stadium okänt", "sjukdom": "Osteoporos", "andel": 16.8}, {"stadium": "Stadium okänt", "sjukdom": "Depression/Ångest", "andel": 33.4}, {"stadium": "Stadium okänt", "sjukdom": "Alfa1-antitrypsinbrist", "andel": 3.2},
                        {"stadium": "Totalt", "sjukdom": "Hjärtsvikt/Ischemisk hjärtsjukdom/Flimmer-fladder", "andel": 28.2}, {"stadium": "Totalt", "sjukdom": "Stroke", "andel": 6.4}, {"stadium": "Totalt", "sjukdom": "Hypertoni", "andel": 38.8}, {"stadium": "Totalt", "sjukdom": "Diabetes mellitus", "andel": 11.7}, {"stadium": "Totalt", "sjukdom": "Osteoporos", "andel": 14.2}, {"stadium": "Totalt", "sjukdom": "Depression/Ångest", "andel": 22.1}, {"stadium": "Totalt", "sjukdom": "Alfa1-antitrypsinbrist", "andel": 1.2}
                      ]},
                      "encoding": {
                        "x": {"field": "stadium", "type": "nominal", "sort": null, "title": null, "scale": {"paddingInner": 0.14, "paddingOuter": 0.07}, "axis": {"labelAngle": 0, "ticks": false, "labelPadding": 1, "labelFontSize": 5.5, "labelLineHeight": 6.5, "labelExpr": "datum.value == 'Stadium okänt' ? ['Stadium', 'okänt'] : datum.value"}},
                        "xOffset": {"field": "sjukdom", "type": "nominal", "scale": {"domain": ["Hjärtsvikt/Ischemisk hjärtsjukdom/Flimmer-fladder", "Stroke", "Hypertoni", "Diabetes mellitus", "Osteoporos", "Depression/Ångest", "Alfa1-antitrypsinbrist"], "paddingInner": 0.12}},
                        "y": {"field": "andel", "type": "quantitative", "scale": {"domain": [0, 50], "nice": false}, "axis": {"values": [0, 5, 10, 15, 20, 25, 30, 35, 40, 45, 50], "title": "%", "titleAngle": 0, "titleAlign": "left", "titleBaseline": "middle", "titleX": -7, "titleY": -7, "grid": true}}
                      },
                      "layer": [
                        {"transform": [{"filter": {"field": "sjukdom", "oneOf": ["Hjärtsvikt/Ischemisk hjärtsjukdom/Flimmer-fladder", "Stroke"]}}], "mark": {"type": "bar"}, "encoding": {"color": {"field": "sjukdom", "type": "nominal", "scale": {"domain": ["Hjärtsvikt/Ischemisk hjärtsjukdom/Flimmer-fladder", "Stroke"], "range": ["#6dc6cf", "#137298"]}, "legend": {"title": null, "legendX": 4, "legendY": 106.8, "columns": 2, "columnPadding": 6, "labelFontSize": 5.7}}}},
                        {"transform": [{"filter": {"not": {"field": "sjukdom", "oneOf": ["Hjärtsvikt/Ischemisk hjärtsjukdom/Flimmer-fladder", "Stroke"]}}}], "mark": {"type": "bar"}, "encoding": {"color": {"field": "sjukdom", "type": "nominal", "scale": {"domain": ["Hypertoni", "Diabetes mellitus", "Osteoporos", "Depression/Ångest", "Alfa1-antitrypsinbrist"], "range": ["#b7cf72", "#4c6f3a", "#8f2c44", "#f4d03f", "#6c6a90"]}, "legend": {"title": null, "legendX": 4, "legendY": 116.2, "columns": 3, "gridAlign": "all", "columnPadding": 5, "labelFontSize": 5.7}}}}
                      ],
                      "resolve": {"scale": {"color": "independent"}, "legend": {"color": "independent"}}
                    },
                    {
                      "width": 209, "height": 52,
                      "data": {"values": [
                        {"rad": 0, "del": "nr", "text": "Figur 9b."},
                        {"rad": 0, "del": "rubrik", "text": "Andel förekomst av sjukdom 2010. Antal"},
                        {"rad": 1, "del": "rad", "text": "patienter avser det totala antalet patienter med"},
                        {"rad": 2, "del": "rad", "text": "registrering, både med och utan förekomst av sjukdom"}
                      ]},
                      "encoding": {
                        "x": {"datum": 0, "type": "quantitative", "scale": {"domain": [0, 1]}, "axis": null},
                        "y": {"field": "rad", "type": "quantitative", "scale": {"domain": [-2.39, 3.26], "reverse": true, "nice": false, "zero": false}, "axis": null},
                        "text": {"field": "text"}
                      },
                      "layer": [
                        {"transform": [{"filter": "datum.del == 'nr'"}], "mark": {"type": "text", "align": "left", "baseline": "middle", "dx": -9, "fontSize": 7.6, "fontWeight": "bold", "color": "#333"}},
                        {"transform": [{"filter": "datum.del == 'rubrik'"}], "mark": {"type": "text", "align": "left", "baseline": "middle", "dx": 23, "fontSize": 7.6, "color": "#444"}},
                        {"transform": [{"filter": "datum.del == 'rad'"}], "mark": {"type": "text", "align": "left", "baseline": "middle", "dx": -9, "fontSize": 7.6, "color": "#444"}}
                      ]
                    },
                    {
                      "width": 183, "height": 91,
                      "data": {"values": [
                        {"stadium": "Stadium 1", "sjukdom": "Hjärtsvikt/Ischemisk hjärtsjukdom/Flimmer-fladder", "andel": 25.9}, {"stadium": "Stadium 1", "sjukdom": "Stroke", "andel": 5}, {"stadium": "Stadium 1", "sjukdom": "Hypertoni", "andel": 33}, {"stadium": "Stadium 1", "sjukdom": "Diabetes mellitus", "andel": 8.5}, {"stadium": "Stadium 1", "sjukdom": "Osteoporos", "andel": 2.2}, {"stadium": "Stadium 1", "sjukdom": "Depression/Ångest", "andel": 13.3}, {"stadium": "Stadium 1", "sjukdom": "Alfa1-antitrypsinbrist", "andel": 0.3}, {"stadium": "Stadium 1", "sjukdom": "Lungcancer", "andel": 2}, {"stadium": "Stadium 1", "sjukdom": "Sömnapné syndrom", "andel": 6.6},
                        {"stadium": "Stadium 2", "sjukdom": "Hjärtsvikt/Ischemisk hjärtsjukdom/Flimmer-fladder", "andel": 20.8}, {"stadium": "Stadium 2", "sjukdom": "Stroke", "andel": 5}, {"stadium": "Stadium 2", "sjukdom": "Hypertoni", "andel": 39.4}, {"stadium": "Stadium 2", "sjukdom": "Diabetes mellitus", "andel": 10.3}, {"stadium": "Stadium 2", "sjukdom": "Osteoporos", "andel": 10.1}, {"stadium": "Stadium 2", "sjukdom": "Depression/Ångest", "andel": 15}, {"stadium": "Stadium 2", "sjukdom": "Alfa1-antitrypsinbrist", "andel": 0.4}, {"stadium": "Stadium 2", "sjukdom": "Lungcancer", "andel": 0.8}, {"stadium": "Stadium 2", "sjukdom": "Sömnapné syndrom", "andel": 2.4},
                        {"stadium": "Stadium 3", "sjukdom": "Hjärtsvikt/Ischemisk hjärtsjukdom/Flimmer-fladder", "andel": 28.1}, {"stadium": "Stadium 3", "sjukdom": "Stroke", "andel": 4.2}, {"stadium": "Stadium 3", "sjukdom": "Hypertoni", "andel": 41.2}, {"stadium": "Stadium 3", "sjukdom": "Diabetes mellitus", "andel": 12.5}, {"stadium": "Stadium 3", "sjukdom": "Osteoporos", "andel": 12.1}, {"stadium": "Stadium 3", "sjukdom": "Depression/Ångest", "andel": 17.4}, {"stadium": "Stadium 3", "sjukdom": "Alfa1-antitrypsinbrist", "andel": 1.3}, {"stadium": "Stadium 3", "sjukdom": "Lungcancer", "andel": 2}, {"stadium": "Stadium 3", "sjukdom": "Sömnapné syndrom", "andel": 1.3},
                        {"stadium": "Stadium 4", "sjukdom": "Hjärtsvikt/Ischemisk hjärtsjukdom/Flimmer-fladder", "andel": 28.1}, {"stadium": "Stadium 4", "sjukdom": "Stroke", "andel": 5.1}, {"stadium": "Stadium 4", "sjukdom": "Hypertoni", "andel": 40.6}, {"stadium": "Stadium 4", "sjukdom": "Diabetes mellitus", "andel": 7.7}, {"stadium": "Stadium 4", "sjukdom": "Osteoporos", "andel": 20}, {"stadium": "Stadium 4", "sjukdom": "Depression/Ångest", "andel": 16.7}, {"stadium": "Stadium 4", "sjukdom": "Alfa1-antitrypsinbrist", "andel": 1.8}, {"stadium": "Stadium 4", "sjukdom": "Lungcancer", "andel": 2.6}, {"stadium": "Stadium 4", "sjukdom": "Sömnapné syndrom", "andel": 0},
                        {"stadium": "Stadium okänt", "sjukdom": "Hjärtsvikt/Ischemisk hjärtsjukdom/Flimmer-fladder", "andel": 38.8}, {"stadium": "Stadium okänt", "sjukdom": "Stroke", "andel": 12.3}, {"stadium": "Stadium okänt", "sjukdom": "Hypertoni", "andel": 34.5}, {"stadium": "Stadium okänt", "sjukdom": "Diabetes mellitus", "andel": 18}, {"stadium": "Stadium okänt", "sjukdom": "Osteoporos", "andel": 16.2}, {"stadium": "Stadium okänt", "sjukdom": "Depression/Ångest", "andel": 23.9}, {"stadium": "Stadium okänt", "sjukdom": "Alfa1-antitrypsinbrist", "andel": 0}, {"stadium": "Stadium okänt", "sjukdom": "Lungcancer", "andel": 0}, {"stadium": "Stadium okänt", "sjukdom": "Sömnapné syndrom", "andel": 9.9},
                        {"stadium": "Totalt", "sjukdom": "Hjärtsvikt/Ischemisk hjärtsjukdom/Flimmer-fladder", "andel": 25}, {"stadium": "Totalt", "sjukdom": "Stroke", "andel": 5}, {"stadium": "Totalt", "sjukdom": "Hypertoni", "andel": 39.8}, {"stadium": "Totalt", "sjukdom": "Diabetes mellitus", "andel": 10.8}, {"stadium": "Totalt", "sjukdom": "Osteoporos", "andel": 11.5}, {"stadium": "Totalt", "sjukdom": "Depression/Ångest", "andel": 16.7}, {"stadium": "Totalt", "sjukdom": "Alfa1-antitrypsinbrist", "andel": 0.9}, {"stadium": "Totalt", "sjukdom": "Lungcancer", "andel": 1.7}, {"stadium": "Totalt", "sjukdom": "Sömnapné syndrom", "andel": 2.2}
                      ]},
                      "encoding": {
                        "x": {"field": "stadium", "type": "nominal", "sort": null, "title": null, "scale": {"paddingInner": 0.14, "paddingOuter": 0.07}, "axis": {"labelAngle": 0, "ticks": false, "labelPadding": 1, "labelFontSize": 5.5, "labelLineHeight": 6.5, "labelExpr": "datum.value == 'Stadium okänt' ? ['Stadium', 'okänt'] : datum.value"}},
                        "xOffset": {"field": "sjukdom", "type": "nominal", "scale": {"domain": ["Hjärtsvikt/Ischemisk hjärtsjukdom/Flimmer-fladder", "Stroke", "Hypertoni", "Diabetes mellitus", "Osteoporos", "Depression/Ångest", "Alfa1-antitrypsinbrist", "Lungcancer", "Sömnapné syndrom"], "paddingInner": 0.12}},
                        "y": {"field": "andel", "type": "quantitative", "scale": {"domain": [0, 50], "nice": false}, "axis": {"values": [0, 5, 10, 15, 20, 25, 30, 35, 40, 45, 50], "title": "%", "titleAngle": 0, "titleAlign": "left", "titleBaseline": "middle", "titleX": -7, "titleY": -7, "grid": true}}
                      },
                      "layer": [
                        {"transform": [{"filter": {"field": "sjukdom", "oneOf": ["Hjärtsvikt/Ischemisk hjärtsjukdom/Flimmer-fladder", "Stroke"]}}], "mark": {"type": "bar"}, "encoding": {"color": {"field": "sjukdom", "type": "nominal", "scale": {"domain": ["Hjärtsvikt/Ischemisk hjärtsjukdom/Flimmer-fladder", "Stroke"], "range": ["#6dc6cf", "#137298"]}, "legend": {"title": null, "legendX": 4, "legendY": 107.5, "columns": 2, "columnPadding": 6, "labelFontSize": 5.7}}}},
                        {"transform": [{"filter": {"not": {"field": "sjukdom", "oneOf": ["Hjärtsvikt/Ischemisk hjärtsjukdom/Flimmer-fladder", "Stroke"]}}}], "mark": {"type": "bar"}, "encoding": {"color": {"field": "sjukdom", "type": "nominal", "scale": {"domain": ["Hypertoni", "Diabetes mellitus", "Osteoporos", "Depression/Ångest", "Alfa1-antitrypsinbrist", "Lungcancer", "Sömnapné syndrom"], "range": ["#b7cf72", "#4c6f3a", "#8f2c44", "#f4d03f", "#6c6a90", "#dd8ab9", "#1e4d78"]}, "legend": {"title": null, "legendX": 4, "legendY": 116.1, "columns": 3, "gridAlign": "all", "columnPadding": 5, "labelFontSize": 5.7}}}}
                      ],
                      "resolve": {"scale": {"color": "independent"}, "legend": {"color": "independent"}}
                    },
                    {
                      "width": 192, "height": 27.5,
                      "data": {"values": [{"del": "nr", "text": "Antal patienter"}, {"del": "rubrik", "text": "för Figur 9a och 9b"}]},
                      "encoding": {"x": {"datum": 0, "type": "quantitative", "scale": {"domain": [0, 1]}, "axis": null}, "text": {"field": "text"}},
                      "layer": [
                        {"transform": [{"filter": "datum.del == 'nr'"}], "mark": {"type": "text", "align": "left", "baseline": "middle", "dx": -11, "dy": 4.45, "fontSize": 7, "fontWeight": "bold", "color": "#333"}},
                        {"transform": [{"filter": "datum.del == 'rubrik'"}], "mark": {"type": "text", "align": "left", "baseline": "middle", "dx": 38, "dy": 4.45, "fontSize": 7, "color": "#444"}}
                      ]
                    },
                    {
                      "width": 192, "height": 86.4,
                      "data": {"values": [
                        {"rad": "Hjärtsvikt/Ischemisk hjärtsjukdom/Flimmer-fladder", "år": "2009", "antal": 889}, {"rad": "Hjärtsvikt/Ischemisk hjärtsjukdom/Flimmer-fladder", "år": "2010", "antal": 2125},
                        {"rad": "Stroke", "år": "2009", "antal": 887}, {"rad": "Stroke", "år": "2010", "antal": 2129},
                        {"rad": "Hypertoni", "år": "2009", "antal": 886}, {"rad": "Hypertoni", "år": "2010", "antal": 2131},
                        {"rad": "Diabetes mellitus", "år": "2009", "antal": 886}, {"rad": "Diabetes mellitus", "år": "2010", "antal": 2140},
                        {"rad": "Osteoporos", "år": "2009", "antal": 726}, {"rad": "Osteoporos", "år": "2010", "antal": 1841},
                        {"rad": "Depression/Ångest", "år": "2009", "antal": 872}, {"rad": "Depression/Ångest", "år": "2010", "antal": 2096},
                        {"rad": "Alfa1-antitrypsinbrist", "år": "2009", "antal": 495}, {"rad": "Alfa1-antitrypsinbrist", "år": "2010", "antal": 1441},
                        {"rad": "Lungcancer", "år": "2010", "antal": 989},
                        {"rad": "Sömnapné syndrom", "år": "2010", "antal": 947}
                      ]},
                      "layer": [
                        {"mark": {"type": "text", "align": "right", "baseline": "middle", "dx": -2, "fontSize": 5.7, "color": "#555"},
                         "encoding": {
                           "y": {"field": "rad", "type": "nominal", "sort": null, "scale": {"paddingInner": 0, "paddingOuter": 0}, "axis": {"title": "Sjukdom", "titleAngle": 0, "titleAlign": "left", "titleBaseline": "bottom", "titleX": -11, "titleY": -2.5, "titleFontWeight": "bold", "titleFontSize": 5.7, "titleColor": "#444", "domain": false, "tickBand": "extent", "tickSize": 11, "tickWidth": 0.6, "tickColor": {"condition": {"test": "datum.value == 'Hjärtsvikt/Ischemisk hjärtsjukdom/Flimmer-fladder'", "value": "#555"}, "value": "#cfcfcf"}, "grid": true, "gridWidth": 0.6, "gridColor": {"condition": {"test": "datum.value == 'Hjärtsvikt/Ischemisk hjärtsjukdom/Flimmer-fladder'", "value": "#555"}, "value": "#cfcfcf"}, "labelAlign": "left", "labelPadding": 0, "labelFontSize": 5.7, "labelColor": "#555", "labelLimit": 200}},
                           "x": {"field": "år", "type": "nominal", "sort": null, "bandPosition": 1, "scale": {"domain": ["2009", "2010"], "paddingInner": 0, "paddingOuter": 1.4, "align": 0.875}, "axis": {"orient": "top", "title": null, "bandPosition": 1, "labelAngle": 0, "labelAlign": "right", "labelOffset": -2, "labelFontWeight": "bold", "labelFontSize": 5.7, "labelColor": "#444", "ticks": false, "domain": false, "labelPadding": 2.5}},
                           "text": {"field": "antal"}
                         }},
                        {"data": {"values": [{"d": 1}]}, "mark": {"type": "rule", "color": "#999", "strokeWidth": 0.6}, "encoding": {"x": {"datum": "2010", "type": "nominal", "bandPosition": 0.375}}}
                      ]
                    }
                  ]
                }
              ]
            }
          ]
        }
      ]
    }
  ]
}
